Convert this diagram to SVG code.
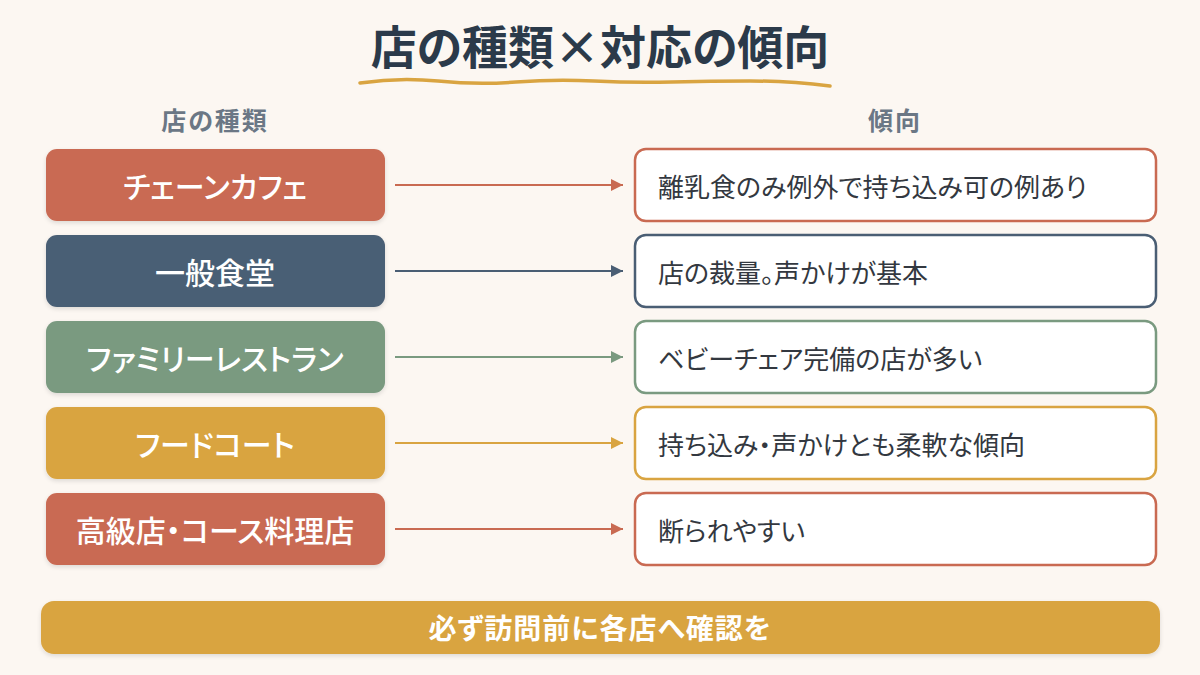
<svg xmlns="http://www.w3.org/2000/svg" width="1200" height="675" viewBox="0 0 1200 675">
<defs>
<style>
.t{font-family:"Noto Sans CJK JP","Noto Sans",sans-serif;font-feature-settings:"palt"}
.title{font-size:46px;font-weight:700;fill:#2b3a4a;text-anchor:middle}
.hdr{font-size:25px;font-weight:700;fill:#6b7785;text-anchor:middle;letter-spacing:2px}
.lt{font-size:30px;font-weight:500;fill:#ffffff;text-anchor:middle;dominant-baseline:central}
.rt{font-size:26px;fill:#333840;dominant-baseline:central}
.rb{fill:#ffffff;stroke-width:2.5}
.cn{stroke-width:2;fill:none}
</style>
<filter id="sh" x="-5%" y="-10%" width="110%" height="130%">
<feDropShadow dx="0" dy="2" stdDeviation="2" flood-color="#000" flood-opacity="0.12"/>
</filter>
<marker id="m1" viewBox="0 0 10 10" refX="10" refY="5" markerWidth="6" markerHeight="6" orient="auto"><path d="M0,0 L10,5 L0,10 z" fill="#c96a52"/></marker>
<marker id="m2" viewBox="0 0 10 10" refX="10" refY="5" markerWidth="6" markerHeight="6" orient="auto"><path d="M0,0 L10,5 L0,10 z" fill="#4a5e74"/></marker>
<marker id="m3" viewBox="0 0 10 10" refX="10" refY="5" markerWidth="6" markerHeight="6" orient="auto"><path d="M0,0 L10,5 L0,10 z" fill="#7a9a80"/></marker>
<marker id="m4" viewBox="0 0 10 10" refX="10" refY="5" markerWidth="6" markerHeight="6" orient="auto"><path d="M0,0 L10,5 L0,10 z" fill="#d9a441"/></marker>
</defs>
<rect width="1200" height="675" fill="#fcf7f2"/>
<g id="title">
<text class="t title" x="600" y="64">店の種類×対応の傾向</text>
<path d="M360,83 Q399,77 438,81 T516,82 T594,81 T672,82 T750,81 T830,86" fill="none" stroke="#d9a441" stroke-width="3.5" stroke-linecap="round"/>
</g>
<g id="headers">
<text class="t hdr" x="215" y="130">店の種類</text>
<text class="t hdr" x="895" y="130">傾向</text>
</g>
<g id="connectors">
<line class="cn" x1="395" y1="185" x2="623" y2="185" stroke="#c96a52" marker-end="url(#m1)"/>
<line class="cn" x1="395" y1="271" x2="623" y2="271" stroke="#4a5e74" marker-end="url(#m2)"/>
<line class="cn" x1="395" y1="357" x2="623" y2="357" stroke="#7a9a80" marker-end="url(#m3)"/>
<line class="cn" x1="395" y1="443" x2="623" y2="443" stroke="#d9a441" marker-end="url(#m4)"/>
<line class="cn" x1="395" y1="529" x2="623" y2="529" stroke="#c96a52" marker-end="url(#m1)"/>
</g>
<g id="type1"><rect x="46" y="149" width="339" height="72" rx="11" fill="#c96a52" filter="url(#sh)"/><text class="t lt" x="215" y="185">チェーンカフェ</text></g>
<g id="type2"><rect x="46" y="235" width="339" height="72" rx="11" fill="#4a5e74" filter="url(#sh)"/><text class="t lt" x="215" y="271">一般食堂</text></g>
<g id="type3"><rect x="46" y="321" width="339" height="72" rx="11" fill="#7a9a80" filter="url(#sh)"/><text class="t lt" x="215" y="357">ファミリーレストラン</text></g>
<g id="type4"><rect x="46" y="407" width="339" height="72" rx="11" fill="#d9a441" filter="url(#sh)"/><text class="t lt" x="215" y="443">フードコート</text></g>
<g id="type5"><rect x="46" y="493" width="339" height="72" rx="11" fill="#c96a52" filter="url(#sh)"/><text class="t lt" x="215" y="529">高級店・コース料理店</text></g>
<g id="trend1"><rect class="rb" x="635" y="149" width="521" height="72" rx="11" stroke="#c96a52"/><text class="t rt" x="658" y="185">離乳食のみ例外で持ち込み可の例あり</text></g>
<g id="trend2"><rect class="rb" x="635" y="235" width="521" height="72" rx="11" stroke="#4a5e74"/><text class="t rt" x="658" y="271">店の裁量。声かけが基本</text></g>
<g id="trend3"><rect class="rb" x="635" y="321" width="521" height="72" rx="11" stroke="#7a9a80"/><text class="t rt" x="658" y="357">ベビーチェア完備の店が多い</text></g>
<g id="trend4"><rect class="rb" x="635" y="407" width="521" height="72" rx="11" stroke="#d9a441"/><text class="t rt" x="658" y="443">持ち込み・声かけとも柔軟な傾向</text></g>
<g id="trend5"><rect class="rb" x="635" y="493" width="521" height="72" rx="11" stroke="#c96a52"/><text class="t rt" x="658" y="529">断られやすい</text></g>
<g id="footer"><rect x="41" y="601" width="1119" height="53" rx="13" fill="#d9a441" filter="url(#sh)"/><text class="t lt" x="600" y="627" style="font-size:28px;font-weight:700;letter-spacing:1px">必ず訪問前に各店へ確認を</text></g>
</svg>
